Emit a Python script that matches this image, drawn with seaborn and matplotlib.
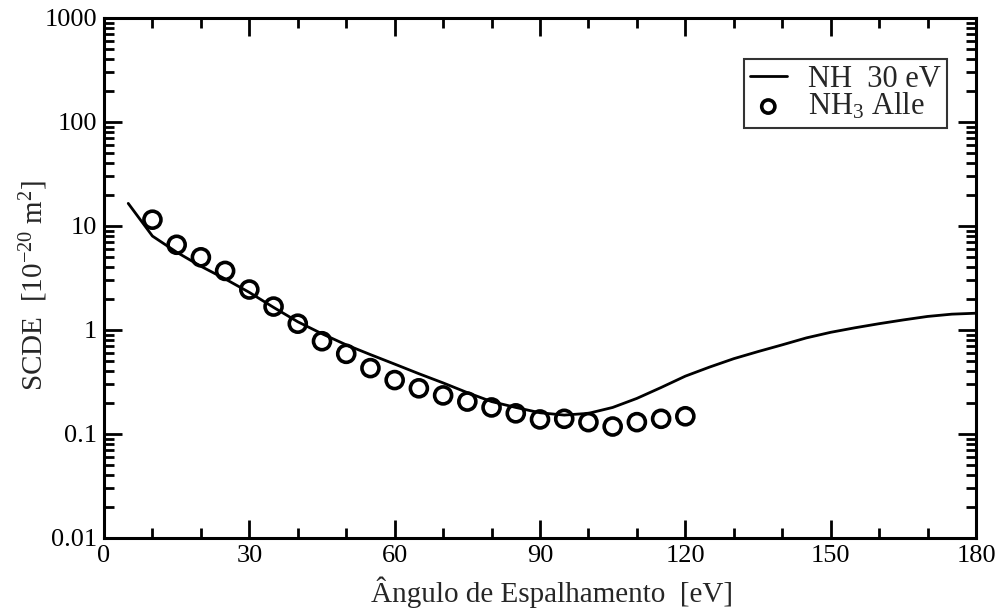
import numpy as np
import pandas as pd
import matplotlib
matplotlib.use("Agg")
import matplotlib.pyplot as plt
import seaborn as sns
from matplotlib.ticker import MultipleLocator, LogLocator, NullFormatter, FixedLocator, FixedFormatter

# --- data ---
theory_angle = [5, 10, 15, 20, 25, 30, 35, 40, 45, 50, 55, 60, 65, 70, 75, 80, 85, 90,
                95, 100, 105, 110, 115, 120, 125, 130, 135, 140, 145, 150, 155, 160,
                165, 170, 175, 180]
theory_scde = [16.5, 8.0, 5.6, 4.1, 3.1, 2.3, 1.65, 1.2, 0.92, 0.72, 0.58, 0.47, 0.38,
               0.31, 0.25, 0.205, 0.18, 0.16, 0.152, 0.158, 0.18, 0.22, 0.28, 0.36,
               0.44, 0.53, 0.62, 0.72, 0.84, 0.95, 1.05, 1.15, 1.25, 1.35, 1.42, 1.45]
exp_angle = [10, 15, 20, 25, 30, 35, 40, 45, 50, 55, 60, 65, 70, 75, 80, 85, 90, 95,
             100, 105, 110, 115, 120]
exp_scde = [11.5, 6.6, 5.0, 3.7, 2.45, 1.68, 1.15, 0.78, 0.59, 0.43, 0.33, 0.275, 0.235,
            0.205, 0.18, 0.158, 0.138, 0.14, 0.13, 0.118, 0.13, 0.14, 0.148]
x_ticks = [0, 30, 60, 90, 120, 150, 180]
y_ticks = [0.01, 0.1, 1, 10, 100, 1000]
y_tick_labels = ["0.01", "0.1", "1", "10", "100", "1000"]

sns.set_style("ticks")
plt.rcParams["font.family"] = ["Liberation Serif", "DejaVu Serif"]
plt.rcParams["mathtext.fontset"] = "custom"
plt.rcParams["mathtext.rm"] = "Liberation Serif"
plt.rcParams["mathtext.it"] = "Liberation Serif:italic"

W, H = 1008, 612
fig = plt.figure(figsize=(W / 100, H / 100), dpi=100)
ax = fig.add_axes([104 / W, 1 - 538 / H, 872 / W, 520 / H])

df_t = pd.DataFrame({"x": theory_angle, "y": theory_scde})
df_e = pd.DataFrame({"x": exp_angle, "y": exp_scde})

sns.lineplot(data=df_t, x="x", y="y", ax=ax, color="black", linewidth=2.0,
             label="NH  30 eV")
sns.scatterplot(data=df_e, x="x", y="y", ax=ax, marker="o", s=150,
                facecolor="none", edgecolor="black", linewidth=2.6,
                label="NH$_3$ Alle")

ax.set_yscale("log")
ax.set_xlim(0, 180)
ax.set_ylim(0.01, 1000)

ax.xaxis.set_major_locator(FixedLocator(x_ticks))
ax.xaxis.set_minor_locator(MultipleLocator(10))
ax.yaxis.set_major_locator(FixedLocator(y_ticks))
ax.yaxis.set_major_formatter(FixedFormatter(y_tick_labels))
ax.yaxis.set_minor_locator(LogLocator(base=10, subs=np.arange(2, 10), numticks=20))
ax.yaxis.set_minor_formatter(NullFormatter())

ax.tick_params(which="both", direction="in", top=True, right=True, width=2,
               labelsize=19, colors="black")
ax.tick_params(which="major", length=13, pad=5)
ax.tick_params(which="minor", length=7)
for s in ax.spines.values():
    s.set_linewidth(2.2)
    s.set_color("black")

ax.set_xlabel("Ângulo de Espalhamento  [eV]", fontsize=21)
ax.xaxis.set_label_coords((552 - 104) / 872, -(602 - 538) / 520)
ax.xaxis.label.set_va("baseline")

ax.set_ylabel("SCDE  [10$^{-20}$ m$^{2}$]", fontsize=21)
ax.yaxis.set_label_coords(-(104 - 34) / 872, (538 - 285) / 520)
ax.yaxis.label.set_va("center")

leg = ax.legend(loc="upper right", bbox_to_anchor=((947 - 104) / 872, (538 - 59) / 520),
                fontsize=22, frameon=True, fancybox=False, edgecolor="black",
                handlelength=1.2, handletextpad=0.7, borderpad=0.2, labelspacing=-0.1,
                borderaxespad=0.0)
leg.get_frame().set_linewidth(1.5)
leg.legend_handles[1].set_sizes([90])

fig.savefig("out.png", dpi=100)
